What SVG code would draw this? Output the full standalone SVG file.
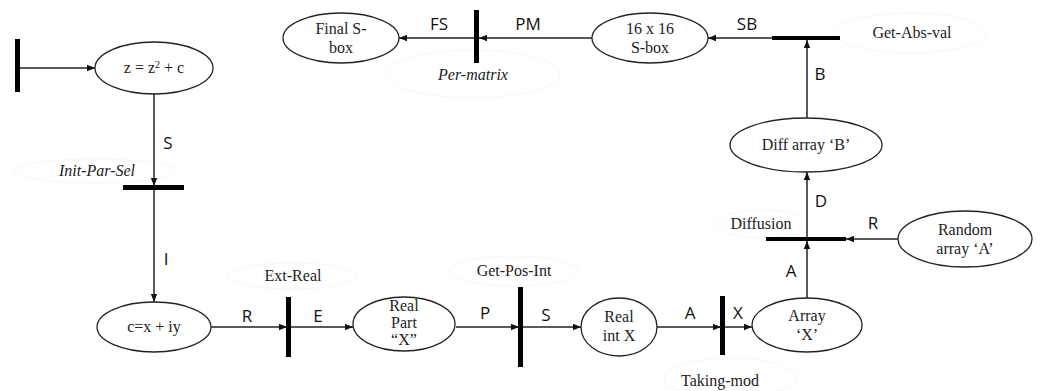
<svg xmlns="http://www.w3.org/2000/svg" width="1040" height="391" viewBox="0 0 1040 391">
<style>
.n{fill:#fff;stroke:#222;stroke-width:1.3}
.t{font-family:"Liberation Serif","Times New Roman","DejaVu Serif",serif;font-size:16px;fill:#222;text-anchor:middle}
.i{font-style:italic}
.l{font-family:"Open Sans","Liberation Sans",sans-serif;font-size:17px;fill:#111;text-anchor:middle}
.e{fill:none;stroke:#222;stroke-width:1.5}
.bar{fill:#000}
.halo{fill:none;stroke:#f7f7f7;stroke-width:1}
</style>
<defs>
<marker id="ah" viewBox="0 0 10 10" refX="10" refY="5" markerWidth="8" markerHeight="8" markerUnits="userSpaceOnUse" orient="auto">
<path d="M0,1 L10,5 L0,9 z" fill="#111"/>
</marker>
</defs>
<rect width="1040" height="391" fill="#fff"/>

<g id="transitions">
<rect class="bar" x="15" y="39" width="5" height="53"/>
<g id="t-initparsel"><ellipse class="halo" cx="95" cy="171" rx="82" ry="12"/><rect class="bar" x="123" y="185" width="61" height="5"/><text class="t i" x="97" y="176">Init-Par-Sel</text></g>
<g id="t-extreal"><ellipse class="halo" cx="292" cy="276" rx="65" ry="13"/><rect class="bar" x="286" y="297" width="5" height="60"/><text class="t" x="293" y="281">Ext-Real</text></g>
<g id="t-getposint"><ellipse class="halo" cx="514" cy="271" rx="64" ry="15"/><rect class="bar" x="518" y="287" width="5" height="80"/><text class="t" x="514" y="276">Get-Pos-Int</text></g>
<g id="t-takingmod"><ellipse class="halo" cx="730" cy="378" rx="66" ry="20"/><rect class="bar" x="720" y="296" width="5" height="59"/><text class="t" x="720" y="386">Taking-mod</text></g>
<g id="t-diffusion"><ellipse class="halo" cx="762" cy="224" rx="46" ry="14"/><rect class="bar" x="766" y="237" width="80" height="4"/><text class="t" x="761" y="229">Diffusion</text></g>
<g id="t-getabsval"><ellipse class="halo" cx="910" cy="33" rx="76" ry="20"/><rect class="bar" x="772" y="36" width="68" height="4"/><text class="t" x="912" y="38">Get-Abs-val</text></g>
<g id="t-permatrix"><ellipse class="halo" cx="473" cy="74" rx="87" ry="24"/><rect class="bar" x="474" y="10" width="5" height="53"/><text class="t i" x="473" y="80">Per-matrix</text></g>
</g>

<g id="connectors">
<line class="e" x1="20" y1="68" x2="95" y2="68" marker-end="url(#ah)"/>
<line class="e" x1="154" y1="94" x2="154" y2="186" marker-end="url(#ah)"/>
<line class="e" x1="154" y1="190" x2="154" y2="302" marker-end="url(#ah)"/>
<line class="e" x1="211" y1="327" x2="287" y2="327" marker-end="url(#ah)"/>
<line class="e" x1="291" y1="327" x2="353" y2="327" marker-end="url(#ah)"/>
<line class="e" x1="456" y1="327" x2="519" y2="327" marker-end="url(#ah)"/>
<line class="e" x1="523" y1="327" x2="581" y2="327" marker-end="url(#ah)"/>
<line class="e" x1="657" y1="327" x2="721" y2="327" marker-end="url(#ah)"/>
<line class="e" x1="725" y1="327" x2="752" y2="327" marker-end="url(#ah)"/>
<line class="e" x1="807" y1="298" x2="807" y2="241" marker-end="url(#ah)"/>
<line class="e" x1="898" y1="239" x2="846" y2="239" marker-end="url(#ah)"/>
<line class="e" x1="807" y1="237" x2="807" y2="172" marker-end="url(#ah)"/>
<line class="e" x1="807" y1="118" x2="807" y2="40" marker-end="url(#ah)"/>
<line class="e" x1="772" y1="38" x2="708" y2="38" marker-end="url(#ah)"/>
<line class="e" x1="592" y1="38" x2="479" y2="38" marker-end="url(#ah)"/>
<line class="e" x1="474" y1="38" x2="399" y2="38" marker-end="url(#ah)"/>
<text class="l" x="168" y="149">S</text>
<text class="l" x="166" y="265">I</text>
<text class="l" x="247" y="322">R</text>
<text class="l" x="318" y="322">E</text>
<text class="l" x="485" y="319">P</text>
<text class="l" x="546" y="321">S</text>
<text class="l" x="690" y="319">A</text>
<text class="l" x="738" y="319">X</text>
<text class="l" x="791" y="277">A</text>
<text class="l" x="873" y="229">R</text>
<text class="l" x="821" y="207">D</text>
<text class="l" x="820" y="80">B</text>
<text class="l" x="747" y="30">SB</text>
<text class="l" x="528" y="30">PM</text>
<text class="l" x="439" y="30">FS</text>
</g>

<g id="n-z"><ellipse class="n" cx="154" cy="68" rx="59" ry="26"/><text class="t" x="154" y="73">z = z<tspan font-size="10" dy="-5">2</tspan><tspan dy="5"> + c</tspan></text></g>
<g id="n-c"><ellipse class="n" cx="154" cy="327" rx="57" ry="25"/><text class="t" x="154" y="332">c=x + iy</text></g>
<g id="n-realpart"><ellipse class="n" cx="404" cy="324" rx="51" ry="27"/><text class="t" x="404" y="311">Real</text><text class="t" x="404" y="328">Part</text><text class="t" x="404" y="345">“X”</text></g>
<g id="n-realint"><ellipse class="n" cx="619" cy="327" rx="38" ry="29"/><text class="t" x="619" y="322">Real</text><text class="t" x="619" y="341">int X</text></g>
<g id="n-arrayx"><ellipse class="n" cx="807" cy="325" rx="55" ry="27"/><text class="t" x="807" y="321">Array</text><text class="t" x="807" y="340">‘X’</text></g>
<g id="n-random"><ellipse class="n" cx="965" cy="239" rx="67" ry="28"/><text class="t" x="965" y="235">Random</text><text class="t" x="965" y="254">array ‘A’</text></g>
<g id="n-diff"><ellipse class="n" cx="806" cy="145" rx="76" ry="27"/><text class="t" x="806" y="150">Diff array ‘B’</text></g>
<g id="n-16"><ellipse class="n" cx="650" cy="38" rx="58" ry="25"/><text class="t" x="650" y="34">16 x 16</text><text class="t" x="650" y="53">S-box</text></g>
<g id="n-final"><ellipse class="n" cx="341" cy="38" rx="58" ry="25"/><text class="t" x="341" y="34">Final S-</text><text class="t" x="341" y="53">box</text></g>
</svg>
